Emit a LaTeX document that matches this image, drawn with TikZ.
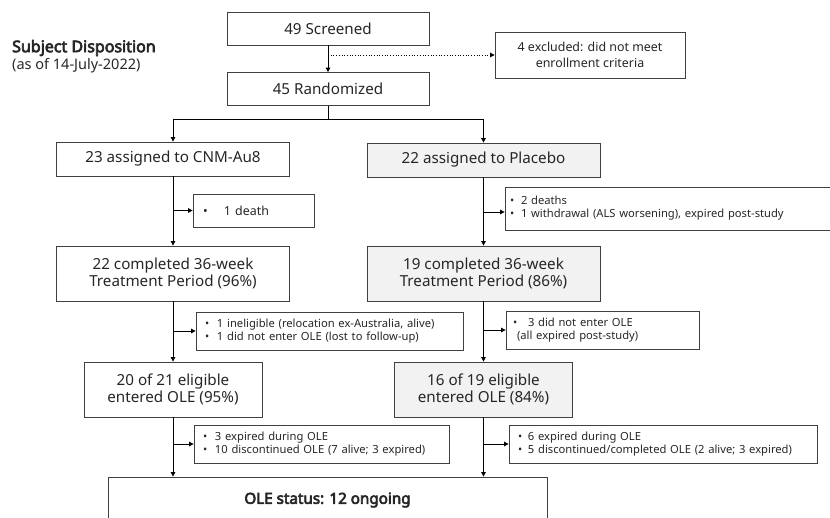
\documentclass[tikz,border=0pt]{standalone}
\usepackage{fontspec}
\setmainfont{Noto Sans}[AutoFakeBold=4]
\usetikzlibrary{arrows.meta}
\definecolor{bd}{HTML}{404040}
\definecolor{gf}{HTML}{F2F2F2}
\definecolor{tx}{HTML}{262626}
\newcommand\bul[2]{\hspace*{#1pt}\makebox[#2pt][l]{\textbullet}}
\tikzset{
 box/.style={draw=bd, line width=0.8pt, inner sep=0pt, align=center, text=tx, font=\fontsize{15.2}{17.6}\selectfont},
 gbox/.style={box, fill=gf},
 lbox/.style={draw=bd, line width=0.8pt, inner sep=0pt, align=left, text=tx, font=\fontsize{11.2}{13}\selectfont},
 arr/.style={-{Triangle[length=4.5pt,width=4.5pt]}, draw=black, line width=0.8pt},
 ln/.style={draw=black, line width=0.8pt},
}
\begin{document}
\begin{tikzpicture}[x=1pt,y=-1pt]
\useasboundingbox (0,0) rectangle (830,517);
\clip (0,0) rectangle (830,517);
% title
\node[anchor=west, text=tx, font=\fontsize{16}{19}\selectfont\bfseries, inner sep=0pt] (title) at (12,48) {Subject Disposition};
\node[anchor=west, text=tx, font=\fontsize{14.5}{17}\selectfont, inner sep=0pt] (date) at (12,66) {(as of 14-July-2022)};
% top
\node[box, minimum width=202, minimum height=33] (scr) at (328,28.5) {49 Screened};
\node[box, minimum width=202, minimum height=33] (rand) at (328,89) {45 Randomized};
\node[box, minimum width=190, minimum height=46, font=\fontsize{12.4}{15.5}\selectfont] (excl) at (590,55) {4 excluded: did not meet\\enrollment criteria};
% arms
\node[box, minimum width=233, minimum height=34] (cnm) at (173,159) {23 assigned to CNM-Au8};
\node[gbox, minimum width=233, minimum height=34] (plac) at (483.5,160) {22 assigned to Placebo};
\node[lbox, text width=121, minimum height=33, font=\fontsize{12.4}{14}\selectfont] (death) at (253.5,210.5) {\bul{10}{21}1 death};
\node[lbox, text width=340, minimum height=43] (pdeath) at (675,208.5) {\bul{5}{11}2 deaths\\\bul{5}{11}1 withdrawal (ALS worsening), expired post-study};
\node[box, minimum width=233, minimum height=55] (comp1) at (173,273.5) {22 completed 36-week\\Treatment Period (96\%)};
\node[gbox, minimum width=233, minimum height=55] (comp2) at (483.5,273.5) {19 completed 36-week\\Treatment Period (86\%)};
\node[lbox, text width=267, minimum height=38] (inel) at (329.5,331) {\bul{9}{12}1 ineligible (relocation ex-Australia, alive)\\\bul{9}{12}1 did not enter OLE (lost to follow-up)};
\node[lbox, text width=193, minimum height=38] (nent) at (602.5,330) {\bul{7}{15}3 did not enter OLE\\\hspace*{11pt}(all expired post-study)};
\node[box, minimum width=178, minimum height=55] (ole1) at (173,389.5) {20 of 21 eligible\\entered OLE (95\%)};
\node[gbox, minimum width=178, minimum height=55] (ole2) at (483.5,389.5) {16 of 19 eligible\\entered OLE (84\%)};
\node[lbox, text width=255, minimum height=38] (exp1) at (321.5,444) {\bul{9}{12}3 expired during OLE\\\bul{9}{12}10 discontinued OLE (7 alive; 3 expired)};
\node[lbox, text width=308, minimum height=38] (exp2) at (663,444) {\bul{9}{10}6 expired during OLE\\\bul{9}{10}5 discontinued/completed OLE (2 alive; 3 expired)};
\node[box, minimum width=439, minimum height=46, font=\fontsize{15.2}{17.6}\selectfont\bfseries] (stat) at (327.5,500) {OLE status: 12 ongoing};
% connectors
\draw[arr] (scr) -- (rand);
\draw[-{Triangle[length=4.5pt,width=4.5pt]}, line width=0.7pt, dotted] (excl.west -| scr.south) -- (excl.west);
\coordinate (split) at (328,119);
\draw[ln] (rand.south) -- (split);
\draw[arr] (split) -| (cnm.north);
\draw[arr] (split) -| (plac.north);
\draw[arr] (cnm) -- (comp1);
\draw[arr] (death.west -| cnm.south) -- (death.west);
\draw[arr] (plac) -- (comp2);
\draw[arr] (plac.south |- 0,212) coordinate (pb) -- (pb -| pdeath.west);
\draw[arr] (comp1) -- (ole1);
\draw[arr] (inel.west -| comp1.south) -- (inel.west);
\draw[arr] (comp2) -- (ole2);
\draw[arr] (nent.west -| comp2.south) -- (nent.west);
\draw[arr] (ole1.south) -- (ole1.south |- stat.north);
\draw[arr] (exp1.west -| ole1.south) -- (exp1.west);
\draw[arr] (ole2.south) -- (ole2.south |- stat.north);
\draw[arr] (exp2.west -| ole2.south) -- (exp2.west);
\end{tikzpicture}
\end{document}
